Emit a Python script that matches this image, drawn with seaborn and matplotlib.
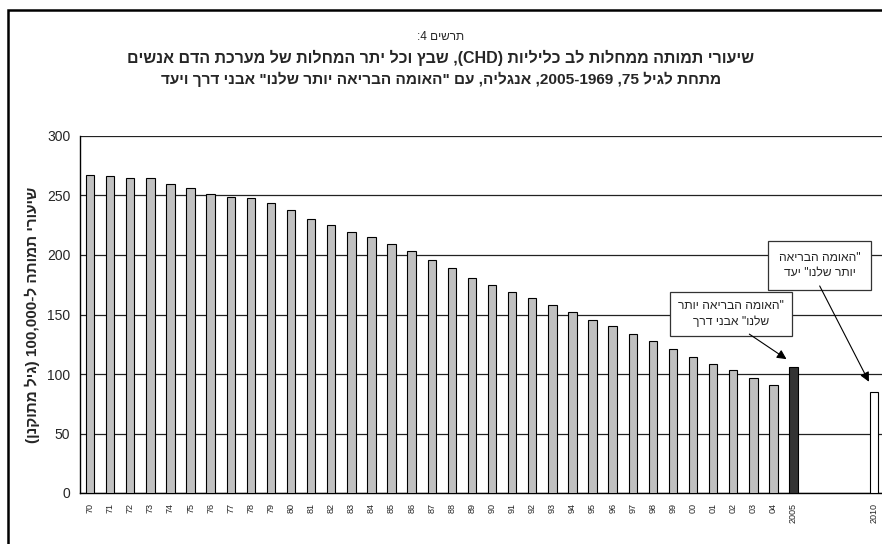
import re
import numpy as np
import pandas as pd
import matplotlib
matplotlib.use("Agg")
import matplotlib.pyplot as plt
from matplotlib.patches import Rectangle
import seaborn as sns

# Data
tick_labels = ['70', '71', '72', '73', '74', '75', '76', '77', '78', '79',
               '80', '81', '82', '83', '84', '85', '86', '87', '88', '89',
               '90', '91', '92', '93', '94', '95', '96', '97', '98', '99',
               '00', '01', '02', '03', '04', '2005', '', '', '', '2010']
rates = [267, 266, 265, 265, 260, 256, 251, 249, 248, 244,
         238, 230, 225, 219, 215, 209, 203, 196, 189, 181,
         175, 169, 164, 158, 152, 145, 140, 134, 128, 121,
         114, 108, 103, 97, 91, 106, np.nan, np.nan, np.nan, 85]
kinds = ['actual'] * 35 + ['milestone'] + ['none'] * 3 + ['target']

bar_colors = {'actual': '#c0c0c0', 'milestone': '#333333', 'target': '#ffffff', 'none': '#ffffff'}


def heb(s):
    # logical RTL text -> visual order for matplotlib (which draws left to right)
    r = s[::-1]
    r = re.sub(r'[0-9A-Za-z]+(?:[.,][0-9A-Za-z]+)*', lambda m: m.group(0)[::-1], r)
    return r.translate(str.maketrans('()', ')('))


keys = [lab if lab else f'gap{i}' for i, lab in enumerate(tick_labels)]
df = pd.DataFrame({'key': keys, 'rate': rates, 'kind': kinds}).dropna()

sns.set_style('white')
plt.rcParams['font.family'] = ['Liberation Sans', 'DejaVu Sans']

fig = plt.figure(figsize=(8.82, 5.44), dpi=100)
ax = fig.add_axes([80 / 882, 51 / 544, 804 / 882, 357 / 544])

sns.barplot(data=df, x='key', y='rate', hue='kind', order=keys, palette=bar_colors,
            dodge=False, width=0.42, edgecolor='black', linewidth=0.8, legend=False,
            saturation=1, ax=ax, zorder=3)

ax.set_xlim(-0.5, len(keys) - 0.5)
ax.set_ylim(0, 300)
ax.set_yticks(range(0, 301, 50))
ax.grid(axis='y', color='#222222', linewidth=0.9, zorder=0)
ax.set_axisbelow(True)

ax.set_xticks(range(len(keys)))
ax.set_xticklabels(tick_labels, rotation=90, fontsize=6.5)
ax.set_xticks(np.arange(-0.5, len(keys), 1.0), minor=True)
ax.tick_params(axis='x', which='major', length=0, pad=7)
ax.tick_params(axis='x', which='minor', length=4, width=0.8, color='black', direction='out')
ax.tick_params(axis='y', length=4, width=0.8, color='black', direction='out', labelsize=10, pad=3)

for side in ['top', 'right']:
    ax.spines[side].set_visible(False)
for side in ['left', 'bottom']:
    ax.spines[side].set_color('black')
    ax.spines[side].set_linewidth(1)

ax.set_xlabel('')
ax.set_ylabel(heb('שיעורי תמותה ל-100,000 (גיל מתוקנן)'), fontsize=11,
              fontweight='bold', labelpad=5)

# titles
fig.text(441 / 882, 1 - 37 / 544, heb('תרשים 4:'), ha='center', va='center', fontsize=8.5)
fig.text(441 / 882, 1 - 58 / 544,
         heb('שיעורי תמותה ממחלות לב כליליות (CHD), שבץ וכל יתר המחלות של מערכת הדם אנשים'),
         ha='center', va='center', fontsize=11.5, fontweight='bold')
fig.text(441 / 882, 1 - 79 / 544,
         heb('מתחת לגיל 75, 1969-2005, אנגליה, עם "האומה הבריאה יותר שלנו" אבני דרך ויעד'),
         ha='center', va='center', fontsize=11.1, fontweight='bold')

# annotation boxes and arrows
box = dict(boxstyle='square,pad=0.65', facecolor='white', edgecolor='#333333', linewidth=0.9)
ax.text(31.9, 150.5, heb('"האומה הבריאה יותר') + '\n' + heb('שלנו" אבני דרך'),
        ha='center', va='center', fontsize=8.7, bbox=box, zorder=6, linespacing=1.4)
box2 = dict(boxstyle='square,pad=0.9', facecolor='white', edgecolor='#333333', linewidth=0.9)
ax.text(36.3, 191.5, heb('"האומה הבריאה') + '\n' + heb('יותר שלנו" יעד'),
        ha='center', va='center', fontsize=8.7, bbox=box2, zorder=6, linespacing=1.35)

arrow = dict(arrowstyle='-|>', color='black', lw=0.8, mutation_scale=14, shrinkA=0, shrinkB=0)
ax.annotate('', xy=(34.65, 112.5), xytext=(32.8, 133.5), arrowprops=arrow, zorder=7)
ax.annotate('', xy=(38.75, 93.5), xytext=(36.3, 174), arrowprops=arrow, zorder=7)

# outer frame (cropped at right and bottom in the reference)
fig.patches.append(Rectangle((7.5 / 882, -0.1), 2.0, 1.1 - 10.5 / 544, transform=fig.transFigure,
                             fill=False, edgecolor='black', linewidth=1.8))

fig.savefig('out.png', dpi=100)
